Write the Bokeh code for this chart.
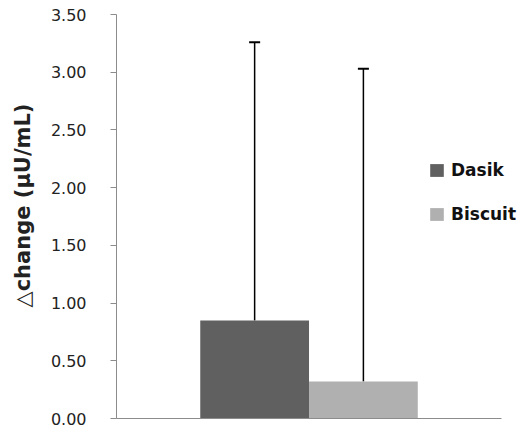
from bokeh.plotting import figure
from bokeh.models import Range1d, FixedTicker, NumeralTickFormatter, Legend, LegendItem, ColumnDataSource, Whisker, TeeHead
from bokeh.embed import file_html
from bokeh.resources import INLINE

groups = ["Dasik", "Biscuit"]
means = [0.85, 0.32]
sds = [2.41, 2.71]
colors = ["#606060", "#b0b0b0"]
offsets = [-0.5, 0.5]
y_ticks = [0.0, 0.5, 1.0, 1.5, 2.0, 2.5, 3.0, 3.5]

src = ColumnDataSource(dict(
    x=offsets, top=means, color=colors, name=groups,
    upper=[m + s for m, s in zip(means, sds)],
))

p = figure(width=518, height=430, output_backend="svg", toolbar_location=None,
           x_range=Range1d(-1.77, 1.926), y_range=Range1d(0, 3.5),
           min_border_left=116, min_border_top=14, min_border_bottom=12, min_border_right=0)
p.outline_line_color = None
p.xgrid.visible = False
p.ygrid.visible = False
p.background_fill_color = "white"

renders = []
for i, g in enumerate(groups):
    r = p.vbar(x=[offsets[i]], top=[means[i]], width=1.0, color=colors[i], line_color=None)
    renders.append(r)

w = Whisker(base="x", lower="top", upper="upper", source=src,
            line_color="black", line_width=1.5,
            upper_head=TeeHead(size=11, line_color="black", line_width=2), lower_head=None)
p.add_layout(w)

# axes
p.xaxis.ticker = FixedTicker(ticks=[])
p.xaxis.bounds = (-1.77, 1.77)
p.xaxis.axis_line_color = "#8c8c8c"
p.xaxis.major_tick_line_color = None
p.xaxis.minor_tick_line_color = None
p.xaxis.major_label_text_font_size = "0px"

p.yaxis.ticker = FixedTicker(ticks=y_ticks)
p.yaxis.formatter = NumeralTickFormatter(format="0.00")
p.yaxis.axis_line_color = "#8c8c8c"
p.yaxis.major_tick_line_color = "#8c8c8c"
p.yaxis.major_tick_in = 0
p.yaxis.major_tick_out = 6
p.yaxis.minor_tick_line_color = None
p.yaxis.major_label_text_font = "DejaVu Sans"
p.yaxis.major_label_text_font_size = "16px"
p.yaxis.major_label_text_color = "#222222"
p.yaxis.major_label_standoff = 24
p.yaxis.axis_label = "\u00a0\u00a0\u00a0△change (µU/mL)"
p.yaxis.axis_label_text_font = "DejaVu Sans"
p.yaxis.axis_label_text_font_style = "bold"
p.yaxis.axis_label_text_font_size = "21px"
p.yaxis.axis_label_text_color = "#222222"
p.yaxis.axis_label_standoff = 13

legend = Legend(items=[LegendItem(label=g, renderers=[r]) for g, r in zip(groups, renders)],
                location=(312, 194), padding=0, margin=0, spacing=24,
                glyph_width=17, glyph_height=16, label_standoff=6, label_height=20,
                label_text_font="DejaVu Sans", label_text_font_style="bold",
                label_text_font_size="17px", label_text_color="#111111",
                border_line_color=None, background_fill_alpha=0)
p.add_layout(legend, "center")

open("out.html", "w").write(file_html(p, INLINE))
